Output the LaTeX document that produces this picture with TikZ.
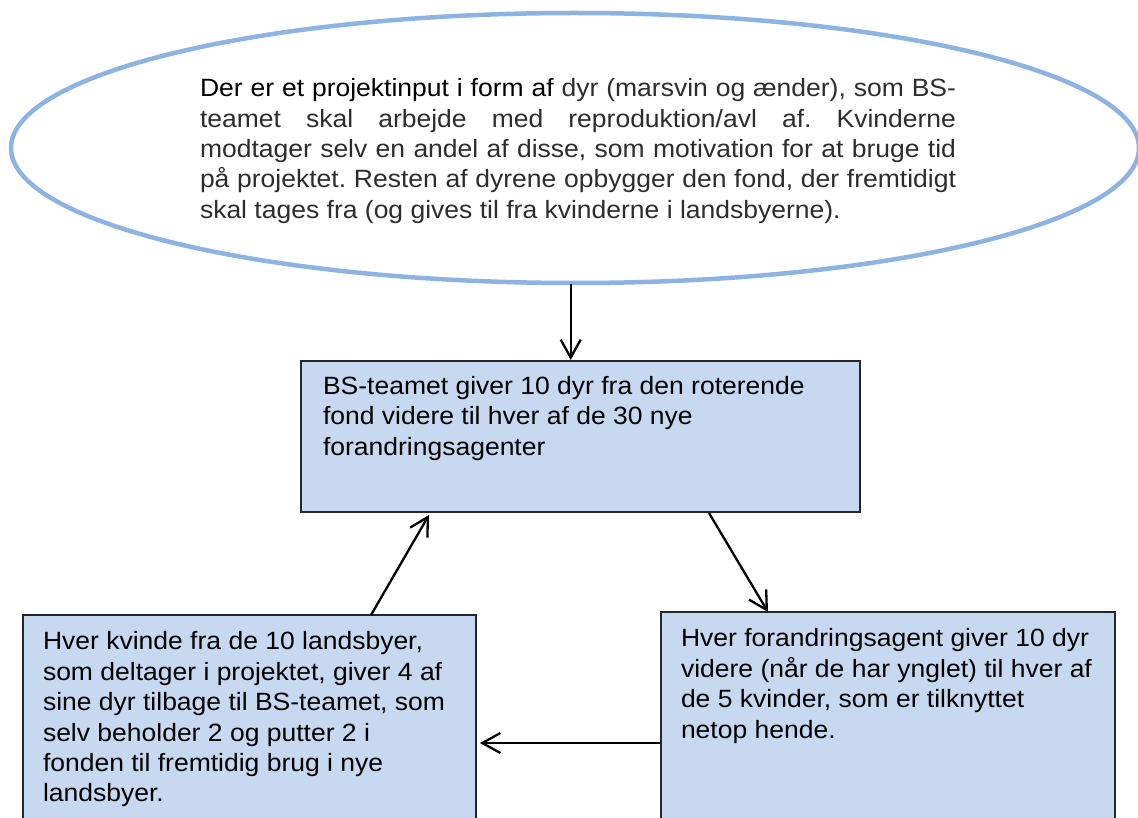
\documentclass[tikz,border=0pt]{standalone}
\usepackage{fontspec}
\setmainfont{Liberation Sans}[FakeStretch=1.06]
\usetikzlibrary{arrows.meta,shapes.geometric,calc}
\definecolor{boxblue}{RGB}{198,217,241}
\definecolor{ellblue}{RGB}{141,179,226}
\definecolor{ellgrey}{RGB}{45,45,45}
\newcommand\boxtext[3]{\parbox[c][#1][t]{#2}{\begin{tabular}{@{}l@{}}#3\end{tabular}}}
\tikzset{
  bodyfont/.style={font=\fontsize{25}{30.4}\selectfont\frenchspacing},
  flowbox/.style={draw=black!85, line width=1.2pt, fill=boxblue, inner xsep=20pt,
    inner ysep=13.7pt, outer sep=0pt, anchor=north west, bodyfont},
  bigell/.style={ellipse, draw=ellblue, line width=4.5pt, minimum width=1128pt,
    minimum height=270pt, inner sep=0pt, bodyfont, text=ellgrey},
  arr/.style={line width=2.3pt, -{Straight Barb[length=18pt,width=20pt]}},
}
\begin{document}
\begin{tikzpicture}[x=1pt,y=-1pt]
\useasboundingbox (0,0) rectangle (1138,818);

\node[bigell] (ell) at (575,148) {\hskip6pt\parbox{756pt}{\frenchspacing
\hbox to 756pt{\strut{\color{black}Der er et projektinput i form af} dyr (marsvin og ænder), som BS-}%
\hbox to 756pt{teamet skal arbejde med reproduktion/avl af. Kvinderne}%
\hbox to 756pt{modtager selv en andel af disse, som motivation for at bruge tid}%
\hbox to 756pt{på projektet. Resten af dyrene opbygger den fond, der fremtidigt}%
\hbox{\strut skal tages fra (og gives til fra kvinderne i landsbyerne).}%
\vspace{-6.8pt}}};

\node[flowbox, inner xsep=22pt, inner ysep=12pt] (top) at (301,361)
  {\boxtext{127pt}{515pt}{BS-teamet giver 10 dyr fra den roterende\\
   fond videre til hver af de 30 nye\\ forandringsagenter}};

\node[flowbox] (left) at (23,615)
  {\boxtext{192.6pt}{413pt}{Hver kvinde fra de 10 landsbyer,\\
   som deltager i projektet, giver 4 af\\
   sine dyr tilbage til BS-teamet, som\\
   selv beholder 2 og putter 2 i\\
   fonden til fremtidig brug i nye\\
   landsbyer.}};

\node[flowbox] (right) at (661,612)
  {\boxtext{192.6pt}{414pt}{Hver forandringsagent giver 10 dyr\\
   videre (når de har ynglet) til hver af\\
   de 5 kvinder, som er tilknyttet\\
   netop hende.}};

\draw[arr] ($(ell.south)+(-4.3,-1)$) -- ($(top.north)+(-9.8,-1)$);
\draw[arr] ($(top.south)+(128.5,1)$) -- ($(right.north)+(-120,0)$);
\draw[arr] ($(left.north)+(121.5,0)$) -- ($(top.south)+(-151.5,3)$);
\draw[arr] ($(right.north west)+(-1,131)$) -- ($(left.north east)+(4,128)$);
\end{tikzpicture}
\end{document}
